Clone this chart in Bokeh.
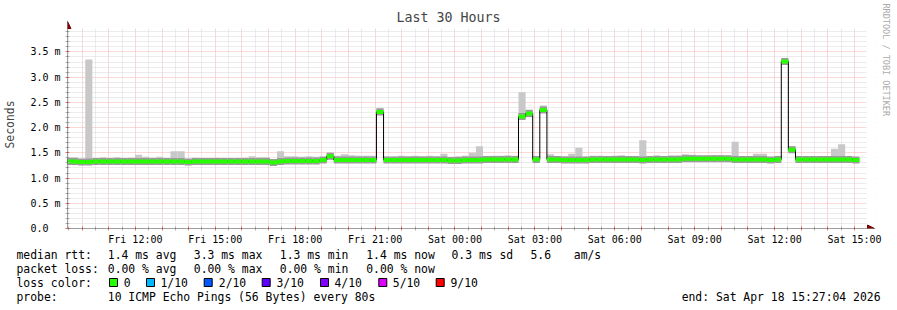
from bokeh.plotting import figure
from bokeh.layouts import column
from bokeh.models import (Range1d, FixedTicker, Arrow, NormalHead, Title,
                          ColumnDataSource)
from bokeh.core.properties import value
from bokeh.embed import file_html
from bokeh.resources import INLINE

FONT = "DejaVu Sans Mono"

# ---------------- data (milliseconds, one value per 16-minute bin) ----------------
median_ms = [
    1.33, 1.33, 1.32, 1.32, 1.33, 1.33, 1.33, 1.33,
    1.33, 1.33, 1.33, 1.33, 1.33, 1.33, 1.33, 1.33,
    1.33, 1.32, 1.33, 1.33, 1.33, 1.33, 1.33, 1.33,
    1.33, 1.33, 1.33, 1.33, 1.33, 1.31, 1.33, 1.34,
    1.34, 1.34, 1.34, 1.34, 1.36, 1.43, 1.36, 1.36,
    1.36, 1.36, 1.36, 1.36, 2.31, 1.36, 1.36, 1.36,
    1.36, 1.36, 1.36, 1.36, 1.36, 1.36, 1.35, 1.35,
    1.36, 1.36, 1.36, 1.37, 1.37, 1.37, 1.37, 1.37,
    2.22, 2.28, 1.37, 2.35, 1.37, 1.37, 1.36, 1.36,
    1.36, 1.36, 1.37, 1.37, 1.37, 1.37, 1.37, 1.37,
    1.37, 1.36, 1.37, 1.37, 1.37, 1.37, 1.37, 1.38,
    1.38, 1.38, 1.38, 1.38, 1.38, 1.38, 1.37, 1.37,
    1.37, 1.37, 1.37, 1.36, 1.37, 3.31, 1.56, 1.37,
    1.37, 1.37, 1.37, 1.37, 1.37, 1.37, 1.37, 1.36,
]
smoke_max_ms = [
    1.41, 1.41, 1.37, 3.35, 1.37, 1.41, 1.39, 1.41,
    1.37, 1.40, 1.46, 1.42, 1.40, 1.42, 1.38, 1.53,
    1.53, 1.36, 1.40, 1.38, 1.38, 1.40, 1.38, 1.38,
    1.38, 1.40, 1.43, 1.41, 1.41, 1.36, 1.53, 1.43,
    1.43, 1.42, 1.43, 1.42, 1.40, 1.50, 1.44, 1.47,
    1.45, 1.44, 1.44, 1.44, 2.39, 1.42, 1.42, 1.44,
    1.43, 1.44, 1.43, 1.44, 1.43, 1.48, 1.42, 1.43,
    1.44, 1.50, 1.63, 1.43, 1.44, 1.44, 1.45, 1.44,
    2.70, 2.36, 1.40, 2.44, 1.47, 1.43, 1.43, 1.48,
    1.60, 1.42, 1.44, 1.44, 1.42, 1.44, 1.45, 1.42,
    1.43, 1.75, 1.42, 1.45, 1.43, 1.45, 1.45, 1.47,
    1.46, 1.43, 1.43, 1.45, 1.45, 1.43, 1.72, 1.43,
    1.43, 1.48, 1.48, 1.40, 1.43, 3.37, 1.63, 1.43,
    1.42, 1.43, 1.43, 1.43, 1.58, 1.67, 1.40, 1.40,
]
smoke_min_ms = [
    1.28, 1.28, 1.27, 1.27, 1.28, 1.28, 1.28, 1.28,
    1.28, 1.28, 1.29, 1.28, 1.28, 1.28, 1.28, 1.28,
    1.28, 1.26, 1.28, 1.28, 1.28, 1.28, 1.28, 1.28,
    1.28, 1.28, 1.28, 1.28, 1.28, 1.26, 1.28, 1.29,
    1.29, 1.29, 1.29, 1.29, 1.31, 1.37, 1.31, 1.31,
    1.31, 1.31, 1.31, 1.31, 2.25, 1.31, 1.31, 1.31,
    1.31, 1.31, 1.31, 1.31, 1.31, 1.31, 1.29, 1.29,
    1.30, 1.31, 1.31, 1.32, 1.32, 1.32, 1.32, 1.32,
    2.18, 2.24, 1.32, 2.30, 1.32, 1.32, 1.30, 1.31,
    1.30, 1.30, 1.32, 1.32, 1.32, 1.32, 1.32, 1.32,
    1.32, 1.30, 1.32, 1.32, 1.32, 1.32, 1.32, 1.33,
    1.33, 1.33, 1.33, 1.33, 1.33, 1.33, 1.32, 1.32,
    1.32, 1.32, 1.32, 1.31, 1.32, 3.27, 1.50, 1.32,
    1.32, 1.32, 1.32, 1.32, 1.32, 1.32, 1.32, 1.31,
]
step_minutes = 16
span_hours = 30
start_clock_h = 9 + 27 / 60 + 4 / 3600        # Fri 09:27:04

x_tick_labels = ["Fri 12:00", "Fri 15:00", "Fri 18:00", "Fri 21:00", "Sat 00:00",
                 "Sat 03:00", "Sat 06:00", "Sat 09:00", "Sat 12:00", "Sat 15:00"]
x_label_clock_h = [12, 15, 18, 21, 24, 27, 30, 33, 36, 39]
y_major_ms = [0.0, 0.5, 1.0, 1.5, 2.0, 2.5, 3.0, 3.5]
y_tick_labels = ["0.0\u00a0\u00a0", "0.5 m", "1.0 m", "1.5 m", "2.0 m", "2.5 m", "3.0 m", "3.5 m"]

loss_labels = ["0", "1/10", "2/10", "3/10", "4/10", "5/10", "9/10"]
loss_colors = ["#26ff00", "#00b8ff", "#0059ff", "#5e00ff", "#7e00ff", "#dd00ff", "#ff0000"]

legend_rows = [
    [("median rtt:", 16), ("1.4 ms avg", 107.3), ("3.3 ms max", 193.3), ("1.3 ms min", 279.3),
     ("1.4 ms now", 365.7), ("0.3 ms sd", 451), ("5.6", 530), ("am/s", 573.3)],
    [("packet loss:", 16), ("0.00 % avg", 107.3), ("0.00 % max", 193.3),
     ("0.00 % min", 279.3), ("0.00 % now", 365.7)],
    [("loss color:", 16)] + list(zip(loss_labels, [123.3, 160, 218.3, 276, 334, 392.3, 450])),
    [("probe:", 16), ("10 ICMP Echo Pings (56 Bytes) every 80s", 107.3)],
]
end_text = "end: Sat Apr 18 15:27:04 2026"

# ---------------- derived ----------------
step_h = step_minutes / 60
xc = [i * step_h for i in range(len(median_ms))]
src = ColumnDataSource(dict(
    x=xc,
    left=[x - step_h / 2 for x in xc],
    right=[x + step_h / 2 for x in xc],
    lo=smoke_min_ms, hi=smoke_max_ms, med=median_ms,
))

W = 897
GRID_TOP, GRID_RIGHT = 28, 867          # where the chart canvas ends (page pixels)
FL, FT, FR, FB = 67, 20, 877, 228       # drawing frame incl. room for the arrow heads
MAIN_H = 247
PX_PER_H = (GRID_RIGHT - FL) / span_hours
PX_PER_MS = (FB - GRID_TOP) / 3.964
X_MAX = (FR - FL) / PX_PER_H
Y_MAX = (FB - FT) / PX_PER_MS

p = figure(width=W, height=MAIN_H, x_range=Range1d(0, X_MAX), y_range=Range1d(0, Y_MAX),
           output_backend="svg", toolbar_location=None,
           min_border_left=FL, min_border_right=W - FR, min_border_top=FT,
           min_border_bottom=MAIN_H - FB,
           background_fill_color="white", border_fill_color="white",
           outline_line_color=None)
p.frame_align = False

def dx(px):
    return (px - FL) / PX_PER_H

def dy(py):
    return (FB - py) / PX_PER_MS

# title & watermark
p.title.text = "Last 30 Hours"
p.title.align = "left"
p.title.offset = 448 - FL - 52
p.title.text_font = FONT
p.title.text_font_size = "13.3px"
p.title.text_font_style = "normal"
p.title.standoff = FT - GRID_TOP
p.add_layout(Title(text="RRDTOOL / TOBI OETIKER", align="left", text_font=FONT,
                   text_font_size="8.5px", text_font_style="normal",
                   text_color="#aaaaaa", standoff=9, offset=3 - FT), "right")

# ticks / grid
hour_ticks = [h - start_clock_h for h in range(10, 40)]
half_ticks = [h + 0.5 - start_clock_h for h in range(9, 39)]
x_ticker = FixedTicker(ticks=hour_ticks, minor_ticks=half_ticks)
p.xaxis.ticker = x_ticker
p.xgrid.ticker = x_ticker
over = {}
for h in range(10, 40):
    over[h - start_clock_h] = ""
for h, lab in zip(x_label_clock_h, x_tick_labels):
    over[h - start_clock_h] = lab
p.xaxis.major_label_overrides = over

y_minor = [t / 10 for t in range(1, 40) if t % 5 != 0]
y_ticker = FixedTicker(ticks=y_major_ms, minor_ticks=y_minor)
p.yaxis.ticker = y_ticker
p.ygrid.ticker = y_ticker
p.yaxis.major_label_overrides = dict(zip(y_major_ms, y_tick_labels))

for g in (p.xgrid, p.ygrid):
    g.grid_line_color = "#f4b0b0"
    g.grid_line_dash = "1 1"
    g.minor_grid_line_color = "#d8d8d8"
    g.minor_grid_line_dash = "1 1"

for ax in (p.xaxis, p.yaxis):
    ax.axis_line_color = None
    ax.major_tick_line_color = "#e07070"
    ax.minor_tick_line_color = "#b0b0b0"
    ax.major_tick_in = 2
    ax.major_tick_out = 2
    ax.minor_tick_in = 2
    ax.minor_tick_out = 2
    ax.major_label_text_font = FONT
    ax.major_label_text_font_size = "10px"
    ax.major_label_text_color = "black"

p.xaxis.major_label_standoff = 3
p.yaxis.major_label_standoff = 5
p.yaxis.axis_label = "Seconds"
p.yaxis.axis_label_text_font = FONT
p.yaxis.axis_label_text_font_size = "11.4px"
p.yaxis.axis_label_text_font_style = "normal"
p.yaxis.axis_label_standoff = 10

# white margins inside the frame (room for the arrow heads, no grid there)
p.quad(left=[0, dx(GRID_RIGHT)], right=[X_MAX, X_MAX], bottom=[dy(GRID_TOP), 0],
       top=[Y_MAX, Y_MAX], fill_color="white", line_color=None)

# ---------------- smoke + median ----------------
p.quad(left="left", right="right", bottom="lo", top="hi", source=src,
       fill_color="#c8c8c8", line_color=None)
p.rect(x="x", y="med", width=step_h, height=7, height_units="screen", source=src,
       fill_color="#9a9a9a", line_color=None)
p.step(x="x", y="med", mode="center", source=src, line_color="black", line_width=1)
p.rect(x="x", y="med", width=step_h, height=4, height_units="screen", source=src,
       fill_color="#26ff00", line_color=None)

# ---------------- axes with arrows ----------------
p.add_layout(Arrow(x_start=0, y_start=0, x_end=dx(875), y_end=0,
                   line_color="#404040", line_width=1,
                   end=NormalHead(size=7, fill_color="#800000", line_color="#800000",
                                  fill_alpha=1.0)))
p.add_layout(Arrow(x_start=0, y_start=0, x_end=0, y_end=dy(21),
                   line_color="#404040", line_width=1,
                   end=NormalHead(size=7, fill_color="#800000", line_color="#800000",
                                  fill_alpha=1.0)))

# ---------------- legend strip (page pixel coordinates) ----------------
LEG_TOP = MAIN_H
LEG_H = 310 - MAIN_H
q = figure(width=W, height=LEG_H, x_range=Range1d(0, W), y_range=Range1d(310, LEG_TOP),
           x_axis_type=None, y_axis_type=None, output_backend="svg",
           toolbar_location=None, min_border=0, outline_line_color=None,
           background_fill_color="white", border_fill_color="white")
q.frame_align = False
q.grid.visible = False

row_y = [254, 268, 282, 296]
tx, ty, tt = [], [], []
for ry, row in zip(row_y, legend_rows):
    for s, px in row:
        tx.append(px)
        ty.append(ry)
        tt.append(s)
q.text(x=tx, y=ty, text=tt, text_font=value(FONT), text_font_size="11.4px",
       text_baseline="middle", text_align="left", text_color="black")
q.text(x=[880], y=[296], text=[end_text], text_font=value(FONT), text_font_size="11.4px",
       text_baseline="middle", text_align="right", text_color="black")
sq_x = [113, 150, 207.7, 265.7, 324, 382.3, 439.7]
q.rect(x=sq_x, y=[282] * len(sq_x), width=8, height=8, fill_color=loss_colors,
       line_color="black", line_width=1)

open("out.html", "w").write(file_html(column(p, q, spacing=0), INLINE))
